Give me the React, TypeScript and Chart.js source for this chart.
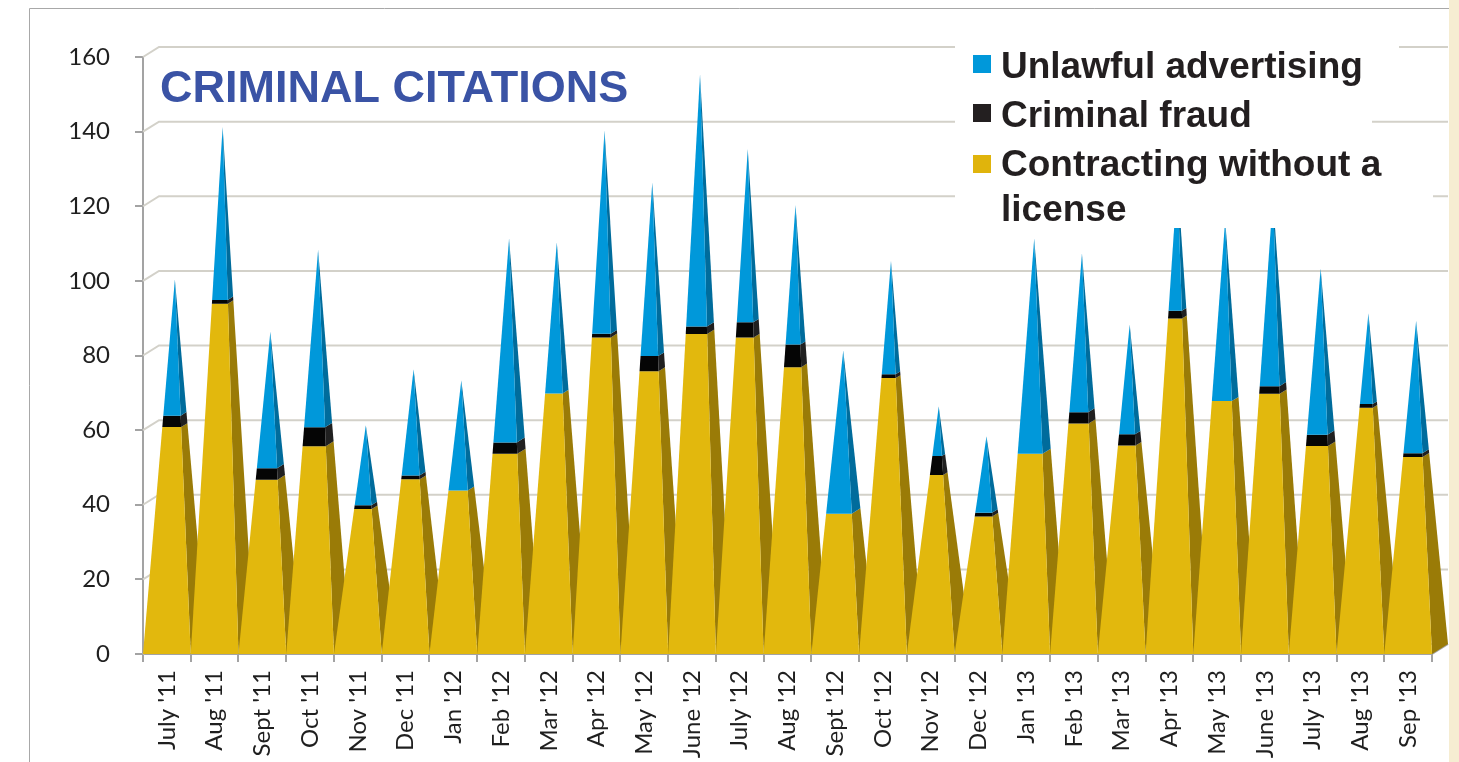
import React, { useEffect, useRef } from "react";
import { Chart, registerables } from "chart.js";

Chart.register(...registerables);

const months = [
  "July '11", "Aug '11", "Sept '11", "Oct '11", "Nov '11", "Dec '11",
  "Jan '12", "Feb '12", "Mar '12", "Apr '12", "May '12", "June '12",
  "July '12", "Aug '12", "Sept '12", "Oct '12", "Nov '12", "Dec '12",
  "Jan '13", "Feb '13", "Mar '13", "Apr '13", "May '13", "June '13",
  "July '13", "Aug '13", "Sep '13",
];

const contracting = [60, 93, 46, 55, 38, 46, 43, 53, 69, 84, 75, 85, 84, 76, 37, 73, 47, 36, 53, 61, 55, 89, 67, 69, 55, 65, 52];
const fraud = [3, 1, 3, 5, 1, 1, 0, 3, 0, 1, 4, 2, 4, 6, 0, 1, 5, 1, 0, 3, 3, 2, 0, 2, 3, 1, 1];
const advertising = [36, 46, 36, 47, 21, 28, 29, 54, 40, 54, 46, 67, 46, 37, 43, 30, 13, 20, 57, 42, 29, 35, 48, 50, 44, 24, 35];

const yMin = 0;
const yMax = 160;
const yStep = 20;

const titleText = "CRIMINAL CITATIONS";
const legendEntries = [
  { lines: ["Unlawful advertising"], color: "#0098DA" },
  { lines: ["Criminal fraud"], color: "#231F20" },
  { lines: ["Contracting without a", "license"], color: "#E0B40C" },
];

const faceColors = [
  { front: "#E2B80D", side: "#9A7B07" },
  { front: "#050505", side: "#202020" },
  { front: "#0098DA", side: "#006C9C" },
];

const DX = 16;
const DY = 10;
const AXIS = "#a3a3a3";
const GRID = "#d3d1c9";

const pyramidPlugin = {
  id: "pyramids",
  beforeDraw(chart: any) {
    const { ctx, width, height } = chart;
    ctx.save();
    ctx.fillStyle = "#ffffff";
    ctx.fillRect(0, 0, width, height);
    ctx.fillStyle = "#f6edd2";
    ctx.fillRect(1449, 0, width - 1449, height);
    ctx.strokeStyle = "#a8a8a8";
    ctx.lineWidth = 1;
    ctx.beginPath();
    ctx.moveTo(29.5, height);
    ctx.lineTo(29.5, 8.5);
    ctx.lineTo(1449, 8.5);
    ctx.stroke();
    ctx.restore();
  },
  beforeDatasetsDraw(chart: any) {
    const { ctx, chartArea } = chart;
    const y = chart.scales.y;
    ctx.save();
    ctx.strokeStyle = GRID;
    ctx.lineWidth = 2;
    for (let v = yMin; v <= yMax; v += yStep) {
      const py = y.getPixelForValue(v);
      ctx.beginPath();
      ctx.moveTo(chartArea.left, py);
      ctx.lineTo(chartArea.left + DX, py - DY);
      ctx.lineTo(chartArea.right + DX, py - DY);
      ctx.stroke();
    }
    const p0 = y.getPixelForValue(0);
    ctx.strokeStyle = AXIS;
    ctx.beginPath();
    ctx.moveTo(chartArea.right, p0);
    ctx.lineTo(chartArea.right + DX, p0 - DY);
    ctx.stroke();
    ctx.restore();
  },
  afterDatasetsDraw(chart: any) {
    const { ctx } = chart;
    const y = chart.scales.y;
    const meta = chart.getDatasetMeta(0);
    const series = [contracting, fraud, advertising];
    ctx.save();
    for (let i = 0; i < months.length; i++) {
      const bar = meta.data[i];
      const xc = bar.x;
      const W = bar.width;
      const T = contracting[i] + fraud[i] + advertising[i];
      const pt = (v: number, which: string) => {
        const s = 0.5 * (1 - v / T);
        const z = which === "BR" ? 0.5 + s : 0.5 - s;
        const x = which === "FL" ? xc - s * W : xc + s * W;
        return [x + z * DX, y.getPixelForValue(v) - z * DY];
      };
      let acc = 0;
      for (let k = 0; k < 3; k++) {
        const val = series[k][i];
        if (val <= 0) continue;
        const a = acc;
        const b = acc + val;
        acc = b;
        const s1 = [pt(a, "FR"), pt(a, "BR"), pt(b, "BR"), pt(b, "FR")];
        ctx.fillStyle = faceColors[k].side;
        ctx.beginPath();
        s1.forEach((p, j) => (j ? ctx.lineTo(p[0], p[1]) : ctx.moveTo(p[0], p[1])));
        ctx.closePath();
        ctx.fill();
        const f1 = [pt(a, "FL"), pt(a, "FR"), pt(b, "FR"), pt(b, "FL")];
        ctx.fillStyle = faceColors[k].front;
        ctx.beginPath();
        f1.forEach((p, j) => (j ? ctx.lineTo(p[0], p[1]) : ctx.moveTo(p[0], p[1])));
        ctx.closePath();
        ctx.fill();
      }
    }
    ctx.restore();
  },
  afterDraw(chart: any) {
    const { ctx } = chart;
    ctx.save();
    ctx.fillStyle = "#3A53A5";
    ctx.font = "bold 45px 'Liberation Sans', Arial, sans-serif";
    ctx.textBaseline = "alphabetic";
    ctx.textAlign = "left";
    ctx.fillText(titleText, 160, 102);
    ctx.fillStyle = "#ffffff";
    ctx.fillRect(955, 38, 444, 52);
    ctx.fillRect(955, 90, 417, 48);
    ctx.fillRect(955, 138, 478, 90);
    const baselines = [[78], [127], [176, 221]];
    const boxTops = [55, 104, 155];
    ctx.font = "bold 37px 'Liberation Sans', Arial, sans-serif";
    legendEntries.forEach((e, k) => {
      ctx.fillStyle = e.color;
      ctx.fillRect(973, boxTops[k], 18, 18);
      ctx.fillStyle = "#231F20";
      e.lines.forEach((ln, j) => ctx.fillText(ln, 1001, baselines[k][j]));
    });
    ctx.restore();
  },
};

export default function App() {
  const ref = useRef<HTMLCanvasElement>(null);
  useEffect(() => {
    if (!ref.current) return;
    const chart = new Chart(ref.current, {
      type: "bar",
      data: {
        labels: months,
        datasets: [
          { label: "Contracting without a license", data: contracting, backgroundColor: "rgba(0,0,0,0)", categoryPercentage: 1, barPercentage: 1 },
          { label: "Criminal fraud", data: fraud, backgroundColor: "rgba(0,0,0,0)", categoryPercentage: 1, barPercentage: 1 },
          { label: "Unlawful advertising", data: advertising, backgroundColor: "rgba(0,0,0,0)", categoryPercentage: 1, barPercentage: 1 },
        ],
      },
      options: {
        animation: false,
        responsive: true,
        maintainAspectRatio: false,
        layout: { padding: { top: 57, right: 27, left: 0, bottom: 0 } },
        plugins: { legend: { display: false }, tooltip: { enabled: false }, title: { display: false } },
        scales: {
          x: {
            stacked: true,
            grid: { display: true, drawOnChartArea: false, offset: true, tickLength: 8, color: AXIS, lineWidth: 2 },
            border: { color: AXIS, width: 2 },
            ticks: {
              autoSkip: false,
              minRotation: 90,
              maxRotation: 90,
              padding: 8,
              color: "#1f1f1f",
              font: { family: "Lato, 'Open Sans', sans-serif", size: 24 },
            },
            afterFit: (s: any) => { s.height = 108; },
          },
          y: {
            stacked: true,
            min: yMin,
            max: yMax,
            grid: { display: true, drawOnChartArea: false, tickLength: 8, color: AXIS, lineWidth: 2 },
            border: { color: AXIS, width: 2 },
            ticks: {
              stepSize: yStep,
              padding: 25,
              color: "#1f1f1f",
              font: { family: "Lato, 'Open Sans', sans-serif", size: 24 },
            },
            afterFit: (s: any) => { s.width = 143; },
          },
        },
      },
      plugins: [pyramidPlugin],
    });
    return () => chart.destroy();
  }, []);
  return (
    <div style={{ position: "absolute", left: 0, top: 0, width: 1459, height: 762 }}>
      <canvas ref={ref} />
    </div>
  );
}
